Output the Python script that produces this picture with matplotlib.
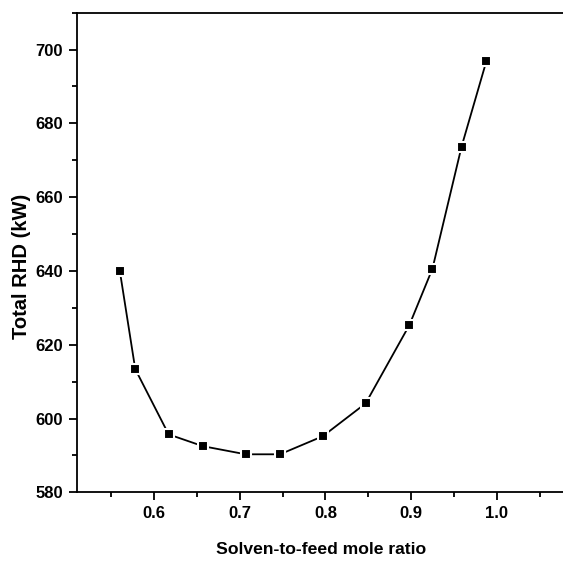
import matplotlib
matplotlib.use('Agg')
import matplotlib.pyplot as plt
from matplotlib.ticker import MultipleLocator

# solvent-to-feed ratio vs total RHD
ratio = [0.560, 0.578, 0.617, 0.657, 0.707, 0.747, 0.797, 0.847, 0.898, 0.925, 0.959, 0.988]
rhd = [640.0, 613.4, 595.7, 592.5, 590.3, 590.3, 595.2, 604.1, 625.3, 640.6, 673.7, 696.9]

plt.rcParams['font.family'] = ['Liberation Sans', 'DejaVu Sans']
plt.rcParams['font.weight'] = 'bold'

fig = plt.figure(figsize=(5.63, 5.61), dpi=100)
ax = fig.add_axes([77/563, 1 - 492.3/561, (565.2 - 77)/563, (492.3 - 12.7)/561])

ax.plot(ratio, rhd, color='black', lw=1.3, marker='s', ms=7.5,
        mfc='black', mec='white', mew=1.5)

ax.set_xlim(0.51, 1.08)
ax.set_ylim(580, 710)
ax.xaxis.set_minor_locator(MultipleLocator(0.05))
ax.yaxis.set_minor_locator(MultipleLocator(10))
ax.set_xticks([0.6, 0.7, 0.8, 0.9, 1.0])
ax.set_xticklabels(['0.6', '0.7', '0.8', '0.9', '1.0'])
ax.set_yticks([580, 600, 620, 640, 660, 680, 700])

ax.tick_params(which='major', direction='out', length=6, width=1.3, labelsize=12, pad=4)
ax.tick_params(which='minor', direction='out', length=3.5, width=1.3)
for s in ax.spines.values():
    s.set_linewidth(1.3)

ax.set_xlabel('Solven-to-feed mole ratio', fontsize=12.6, fontweight='bold', labelpad=15)
ax.set_ylabel('Total RHD (kW)', fontsize=14.5, fontweight='bold', va='center')
ax.yaxis.set_label_coords(-0.113, 0.472)

fig.savefig('out.png', dpi=100)
